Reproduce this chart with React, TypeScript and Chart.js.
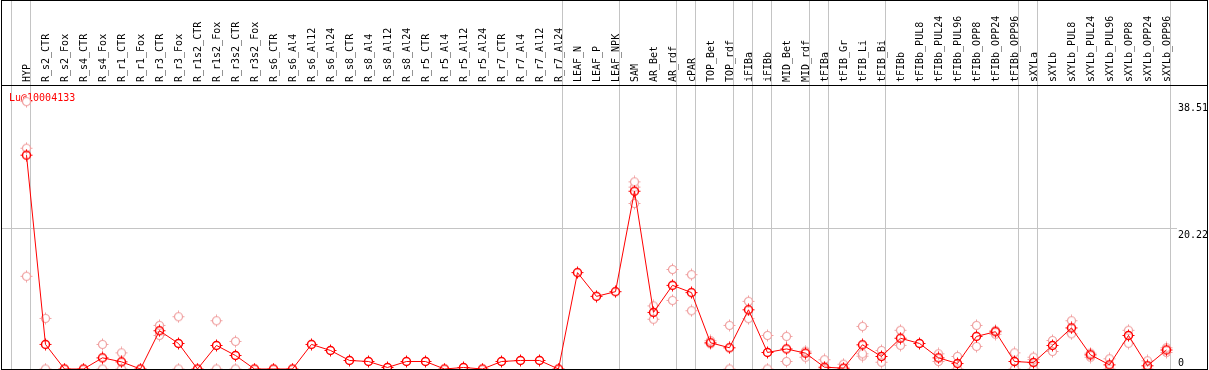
import React, { useEffect, useRef } from "react";
import { Chart, registerables } from "chart.js";

Chart.register(...registerables);

const N = null;

const seriesName = "Lu@10004133";

const categories = [
  "HYP",
  "R_s2_CTR", "R_s2_Fox", "R_s4_CTR", "R_s4_Fox", "R_r1_CTR", "R_r1_Fox", "R_r3_CTR", "R_r3_Fox",
  "R_r1s2_CTR", "R_r1s2_Fox", "R_r3s2_CTR", "R_r3s2_Fox",
  "R_s6_CTR", "R_s6_Al4", "R_s6_Al12", "R_s6_Al24",
  "R_s8_CTR", "R_s8_Al4", "R_s8_Al12", "R_s8_Al24",
  "R_r5_CTR", "R_r5_Al4", "R_r5_Al12", "R_r5_Al24",
  "R_r7_CTR", "R_r7_Al4", "R_r7_Al12", "R_r7_Al24",
  "LEAF_N", "LEAF_P", "LEAF_NPK",
  "SAM", "AR_Bet", "AR_rdf", "cPAR", "TOP_Bet", "TOP_rdf", "iFIBa", "iFIBb", "MID_Bet", "MID_rdf",
  "tFIBa", "tFIB_Gr", "tFIB_Li", "tFIB_Bi", "tFIBb",
  "tFIBb_PUL8", "tFIBb_PUL24", "tFIBb_PUL96", "tFIBb_OPP8", "tFIBb_OPP24", "tFIBb_OPP96",
  "sXYLa", "sXYLb",
  "sXYLb_PUL8", "sXYLb_PUL24", "sXYLb_PUL96", "sXYLb_OPP8", "sXYLb_OPP24", "sXYLb_OPP96",
];

const meanValues = [
  30.8, 3.54, 0, 0, 1.61, 1.03, 0, 5.51, 3.68, 0, 3.39, 1.95, 0, 0, 0,
  3.54, 2.67, 1.23, 1.08, 0.22, 1.08, 1.08, 0, 0.22, 0, 1.08, 1.23, 1.23, 0,
  13.88, 10.46, 11.14, 25.6, 8.15, 12.05, 11.0, 3.78, 3.06, 8.53, 2.38, 2.89, 2.28, 0.26, 0.12, 3.49, 1.8, 4.43,
  3.68, 1.61, 0.79, 4.69, 5.37, 1.08, 0.93, 3.39, 5.92, 2.04, 0.6, 4.83, 0.46, 2.74,
];

const replicateA = [
  38.51, 7.29, N, N, 3.54, 2.33, N, 6.28, 7.53, N,
  6.95, 3.97, N, N, N, N, N, N, N, N,
  N, N, N, N, N, N, N, N, N, N,
  N, N, 26.95, 9.09, 14.33, 13.59, 4.07, 6.28, 9.74, 4.83,
  4.69, 2.57, 1.34, 0.69, 6.13, 2.67, 5.58, N, 2.19, 1.8,
  6.28, 5.56, 2.33, 1.7, 4.11, 6.95, 2.28, 1.47, 5.58, 1.18,
  3.06,
];

const replicateB = [
  31.8, 0, N, N, 0, 0, N, 4.83, 0, N,
  0, 0, N, N, N, N, N, N, N, N,
  N, N, N, N, N, N, N, N, N, N,
  N, N, 26.2, 7.17, 9.88, 8.39, 3.63, 0, 7.26, 0,
  1.08, 1.7, 0, 0, 2.19, 0.98, 3.41, N, 1.08, 0,
  3.25, 5.0, 0, 1.36, 2.52, 5.07, 1.7, 0, 3.7, 0,
  2.38,
];

const replicateC = [
  13.35, N, N, N, N, N, N, N, N, N,
  N, N, N, N, N, N, N, N, N, N,
  N, N, N, N, N, N, N, N, N, N,
  N, N, 23.84, N, N, N, N, N, N, N,
  N, N, N, N, 1.85, N, N, N, N, N,
  N, N, N, 0, N, N, N, N, N, N,
  N,
];

const groupSeparatorsAfter = [-1, 0, 28, 31, 34, 35, 37, 38, 39, 41, 42, 45, 52, 53, 60];
const yTickValues = [38.51, 20.22, 0];
const yGridValues = [20.22];

const FONT = "10px 'DejaVu Sans Mono', 'Liberation Mono', monospace";

function makeMarker(color: string, lw: number, fill: string | null) {
  const c = document.createElement("canvas");
  c.width = 13;
  c.height = 13;
  const g = c.getContext("2d")!;
  g.strokeStyle = color;
  g.lineWidth = lw;
  g.beginPath();
  g.arc(6.5, 6.5, 4, 0, Math.PI * 2);
  if (fill) {
    g.fillStyle = fill;
    g.fill();
  }
  g.stroke();
  g.lineWidth = 1;
  g.beginPath();
  g.moveTo(6.5, 0.5); g.lineTo(6.5, 2.5);
  g.moveTo(6.5, 10.5); g.lineTo(6.5, 12.5);
  g.moveTo(0.5, 6.5); g.lineTo(2.5, 6.5);
  g.moveTo(10.5, 6.5); g.lineTo(12.5, 6.5);
  g.stroke();
  return c;
}

function toPoints(arr: (number | null)[]) {
  const out: { x: number; y: number }[] = [];
  arr.forEach((v, i) => {
    if (v !== null && v !== undefined) out.push({ x: i, y: v });
  });
  return out;
}

const decorPlugin = {
  id: "decor",
  beforeDraw(chart: any) {
    const ctx = chart.ctx;
    const xs = chart.scales.x;
    const ys = chart.scales.y;
    ctx.save();
    ctx.fillStyle = "#ffffff";
    ctx.fillRect(0, 0, chart.width, chart.height);
    ctx.strokeStyle = "#c4c4c4";
    ctx.lineWidth = 1;
    ctx.beginPath();
    groupSeparatorsAfter.forEach((i) => {
      const px = Math.floor(xs.getPixelForValue(i + 0.2)) + 0.5;
      ctx.moveTo(px, 0);
      ctx.lineTo(px, chart.chartArea.bottom);
    });
    yGridValues.forEach((v) => {
      const py = Math.floor(ys.getPixelForValue(v)) + 0.5;
      ctx.moveTo(chart.chartArea.left, py);
      ctx.lineTo(1177, py);
    });
    ctx.stroke();
    ctx.restore();
  },
  beforeDatasetsDraw(chart: any) {
    const ctx = chart.ctx;
    ctx.save();
    ctx.font = FONT;
    ctx.fillStyle = "#ff0000";
    ctx.textAlign = "left";
    ctx.textBaseline = "alphabetic";
    ctx.fillText(seriesName, 9, 101);
    ctx.restore();
  },
  afterDraw(chart: any) {
    const ctx = chart.ctx;
    const xs = chart.scales.x;
    const ys = chart.scales.y;
    const H = chart.height;
    ctx.save();
    // frame
    ctx.fillStyle = "#000000";
    ctx.fillRect(1, 0, 1, H);
    ctx.fillRect(1207, 0, 1, H);
    ctx.fillRect(1, 0, 1207, 1);
    ctx.fillRect(1, 85, 1207, 1);
    ctx.fillRect(1, 369, 1207, 1);
    // header labels
    ctx.font = FONT;
    ctx.fillStyle = "#000000";
    ctx.textAlign = "left";
    ctx.textBaseline = "alphabetic";
    categories.forEach((lab, i) => {
      const px = xs.getPixelForValue(i);
      ctx.save();
      ctx.translate(Math.round(px), 82);
      ctx.rotate(-Math.PI / 2);
      ctx.fillText(lab, 0, 3.5);
      ctx.restore();
    });
    // y labels
    yTickValues.forEach((v) => {
      const py = Math.min(ys.getPixelForValue(v) + 9, 366);
      ctx.fillText(v === 0 ? "0" : v.toFixed(2), 1178, py);
    });
    ctx.restore();
  },
};

export default function App() {
  const ref = useRef<HTMLCanvasElement>(null);
  useEffect(() => {
    document.body.style.margin = "0";
    const canvas = ref.current!;
    const mainMarker = makeMarker("#ff0000", 1.5, null);
    const repMarker = makeMarker("#f0a0a0", 1.2, "#ffffff");
    const reps = [replicateA, replicateB, replicateC];
    const chart = new Chart(canvas, {
      type: "line",
      data: {
        datasets: [
          {
            label: seriesName,
            data: meanValues.map((v, i) => ({ x: i, y: v })),
            borderColor: "#ff0000",
            backgroundColor: "#ff0000",
            borderWidth: 1,
            pointStyle: mainMarker as any,
            pointRadius: 4,
            showLine: true,
            tension: 0,
          },
          ...reps.map((r, k) => ({
            label: "rep" + k,
            data: toPoints(r),
            borderColor: "#f0a0a0",
            backgroundColor: "#ffffff",
            borderWidth: 1,
            pointStyle: repMarker as any,
            pointRadius: 4,
            showLine: false,
          })),
        ],
      },
      options: {
        animation: false,
        responsive: false,
        devicePixelRatio: 1,
        layout: { autoPadding: false, padding: { left: 1, right: 2, top: 85, bottom: 1 } },
        scales: {
          x: { type: "linear", min: -1.3421, max: 62.1316, display: false },
          y: { type: "linear", min: 0, max: 40.9, display: false },
        },
        plugins: { legend: { display: false }, tooltip: { enabled: false } },
      } as any,
      plugins: [decorPlugin],
    });
    return () => chart.destroy();
  }, []);
  return <canvas ref={ref} width={1209} height={370} style={{ display: "block" }} />;
}
